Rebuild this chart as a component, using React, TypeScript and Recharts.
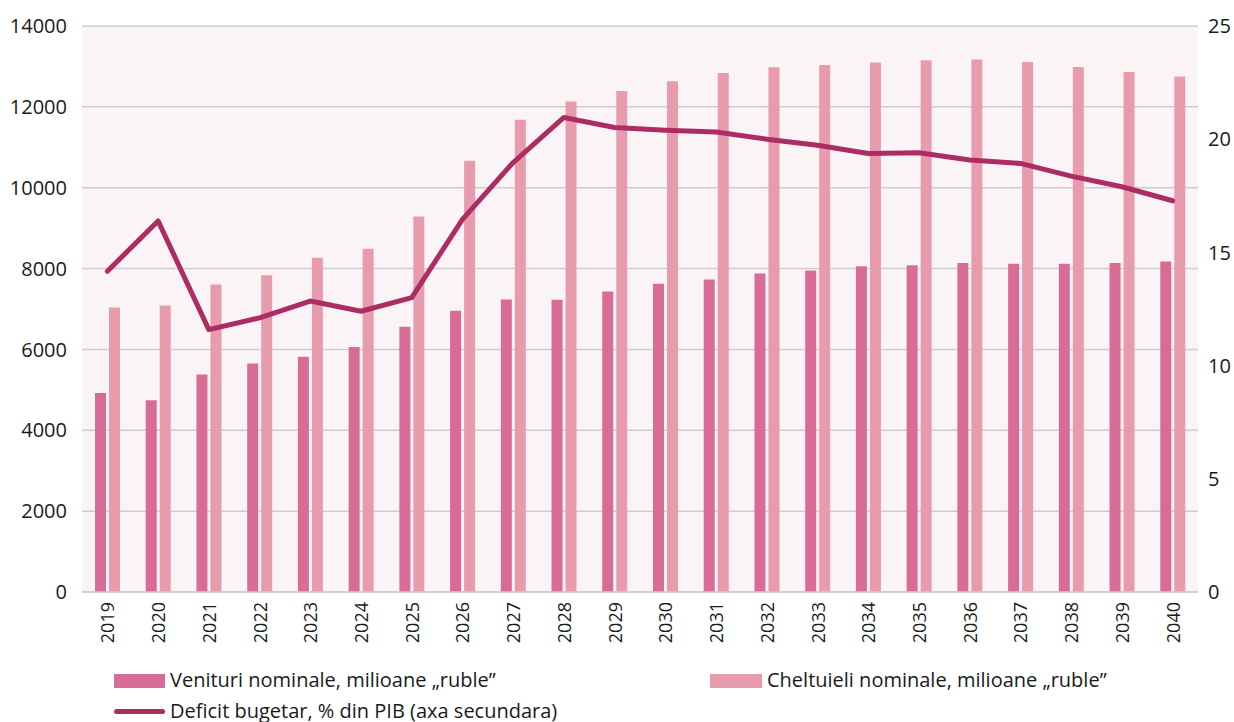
import {
  ComposedChart,
  Bar,
  Line,
  XAxis,
  YAxis,
  CartesianGrid,
  Legend,
} from "recharts";

const years = [
  "2019", "2020", "2021", "2022", "2023", "2024", "2025", "2026", "2027", "2028", "2029",
  "2030", "2031", "2032", "2033", "2034", "2035", "2036", "2037", "2038", "2039", "2040",
];

// Venituri nominale, milioane „ruble"
const venituri = [
  4920, 4740, 5380, 5650, 5820, 6060, 6560, 6955, 7235, 7230, 7430,
  7625, 7730, 7880, 7955, 8060, 8085, 8135, 8120, 8120, 8135, 8175,
];

// Cheltuieli nominale, milioane „ruble"
const cheltuieli = [
  7040, 7085, 7605, 7835, 8270, 8490, 9290, 10670, 11680, 12135, 12390,
  12635, 12835, 12980, 13035, 13100, 13155, 13170, 13110, 12985, 12860, 12750,
];

// Deficit bugetar, % din PIB (axa secundara)
const deficit = [
  14.17, 16.39, 11.59, 12.11, 12.85, 12.4, 13.0, 16.46, 18.97, 20.96, 20.52,
  20.4, 20.32, 20.0, 19.73, 19.37, 19.4, 19.08, 18.93, 18.37, 17.9, 17.28,
];

const leftTicks = [0, 2000, 4000, 6000, 8000, 10000, 12000, 14000];
const rightTicks = [0, 5, 10, 15, 20, 25];

const data = years.map((year, i) => ({
  year,
  venituri: venituri[i],
  cheltuieli: cheltuieli[i],
  deficit: deficit[i],
}));

const FONT = "'Open Sans', 'Noto Sans', sans-serif";
const DARK = "#d96c97";
const LIGHT = "#e99bae";
const LINE = "#ab2d63";

function YearTick({ x, y, payload }: any) {
  const ty = y + 2;
  return (
    <text
      x={x}
      y={ty}
      transform={`rotate(-90, ${x}, ${ty})`}
      textAnchor="end"
      dominantBaseline="central"
      fill="#1a1a1a"
      fontSize={18}
      fontFamily={FONT}
    >
      {payload.value}
    </text>
  );
}

function LegendBox() {
  const label = { position: "absolute" as const, fontSize: 20, color: "#1a1a1a", lineHeight: "22px" };
  return (
    <div style={{ position: "relative", width: 1234, height: 70, fontFamily: FONT }}>
      <div style={{ position: "absolute", left: 114, top: 22, width: 51, height: 14, background: DARK }} />
      <div style={{ ...label, left: 170, top: 17 }}>Venituri nominale, milioane „ruble”</div>
      <div style={{ position: "absolute", left: 710, top: 22, width: 52, height: 14, background: LIGHT }} />
      <div style={{ ...label, left: 767, top: 17 }}>Cheltuieli nominale, milioane „ruble”</div>
      <div style={{ position: "absolute", left: 114, top: 57, width: 51, height: 5, borderRadius: 3, background: LINE }} />
      <div style={{ ...label, left: 170, top: 48 }}>Deficit bugetar, % din PIB (axa secundara)</div>
    </div>
  );
}

export default function App() {
  return (
    <div style={{ position: "absolute", left: 0, top: 0, width: 1234, height: 722, background: "#fff" }}>
      <ComposedChart
        width={1234}
        height={722}
        data={data}
        margin={{ top: 26, right: 0, bottom: 0, left: 0 }}
        barGap={3}
        barSize={11}
      >
        <CartesianGrid
          yAxisId="left"
          vertical={false}
          fill="#fbf4f6"
          stroke="#cdcdcd"
          strokeWidth={1.5}
        />
        <XAxis
          dataKey="year"
          height={60}
          axisLine={{ stroke: "#cdcdcd", strokeWidth: 1.5 }}
          tickLine={false}
          interval={0}
          tick={<YearTick />}
        />
        <YAxis
          yAxisId="left"
          width={82}
          domain={[0, 14000]}
          ticks={leftTicks}
          axisLine={false}
          tickLine={false}
          tickMargin={9}
          tick={{ fill: "#1a1a1a", fontSize: 20, fontFamily: FONT }}
        />
        <YAxis
          yAxisId="right"
          orientation="right"
          width={36}
          domain={[0, 25]}
          ticks={rightTicks}
          axisLine={false}
          tickLine={false}
          tickMargin={4}
          tick={{ fill: "#1a1a1a", fontSize: 20, fontFamily: FONT }}
        />
        <Legend verticalAlign="bottom" height={70} content={() => <LegendBox />} />
        <Bar
          yAxisId="left"
          dataKey="venituri"
          name="Venituri nominale, milioane „ruble”"
          fill={DARK}
          isAnimationActive={false}
        />
        <Bar
          yAxisId="left"
          dataKey="cheltuieli"
          name="Cheltuieli nominale, milioane „ruble”"
          fill={LIGHT}
          isAnimationActive={false}
        />
        <Line
          yAxisId="right"
          dataKey="deficit"
          name="Deficit bugetar, % din PIB (axa secundara)"
          type="linear"
          stroke={LINE}
          strokeWidth={5}
          strokeLinecap="round"
          strokeLinejoin="round"
          dot={false}
          activeDot={false}
          isAnimationActive={false}
        />
      </ComposedChart>
    </div>
  );
}
